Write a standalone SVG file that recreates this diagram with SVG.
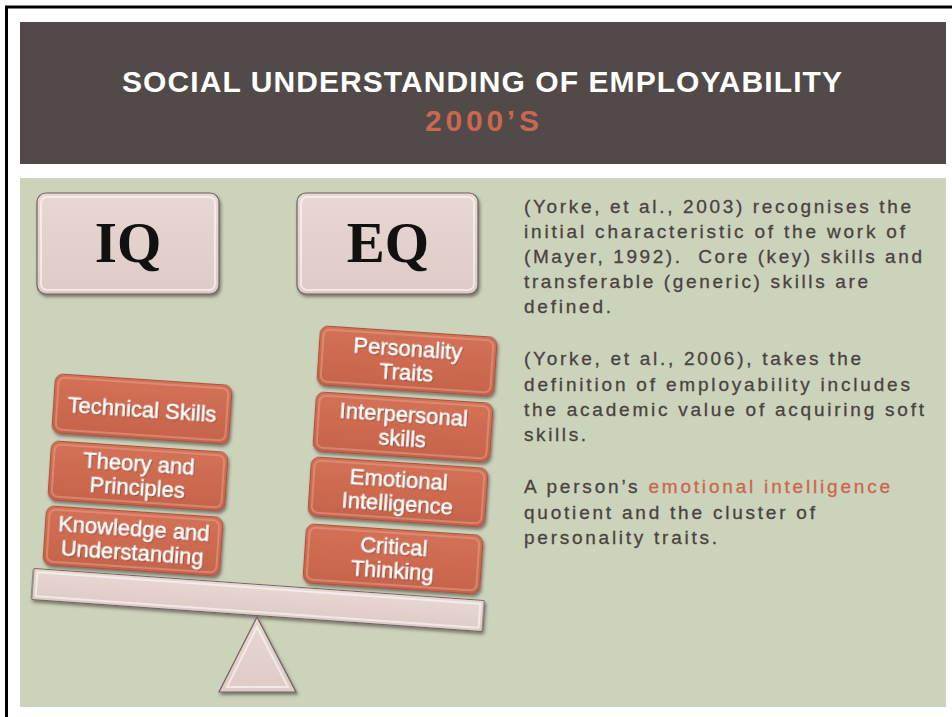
<svg xmlns="http://www.w3.org/2000/svg" width="952" height="717" viewBox="0 0 952 717">
  <defs>
    <linearGradient id="gOrange" x1="0" y1="0" x2="0" y2="1">
      <stop offset="0" stop-color="#d27257"/>
      <stop offset="0.5" stop-color="#cd6a50"/>
      <stop offset="1" stop-color="#c4644b"/>
    </linearGradient>
    <linearGradient id="gPink" x1="0" y1="0" x2="0" y2="1">
      <stop offset="0" stop-color="#e8d7d2"/>
      <stop offset="1" stop-color="#decbc5"/>
    </linearGradient>
    <filter id="shadow" x="-10%" y="-20%" width="125%" height="145%">
      <feDropShadow dx="1.5" dy="2.5" stdDeviation="1.8" flood-color="#3a3330" flood-opacity="0.55"/>
    </filter>
    <filter id="tshadow" x="-5%" y="-20%" width="110%" height="150%">
      <feDropShadow dx="0.8" dy="1" stdDeviation="0.6" flood-color="#6b2f20" flood-opacity="0.6"/>
    </filter>
  </defs>
  <style>
    .title{font-family:"Liberation Sans",Arial,sans-serif;font-weight:bold;font-size:30px;fill:#ffffff}
    .sub{font-family:"Liberation Sans",Arial,sans-serif;font-weight:bold;font-size:30px;fill:#c9684e}
    .eqtxt{font-family:"Liberation Serif","Times New Roman",serif;font-weight:bold;font-size:57px;fill:#111111}
    .pinkbox{fill:url(#gPink);stroke:#6f6360;stroke-width:1.2;filter:url(#shadow)}
    .pinkhl{fill:none;stroke:#ffffff;stroke-opacity:0.55;stroke-width:2}
    .orbox{fill:url(#gOrange);stroke:#a8533d;stroke-width:1;filter:url(#shadow)}
    .orhl{fill:none;stroke:#e89a84;stroke-opacity:0.6;stroke-width:2}
    .ortxt{font-family:"Liberation Sans",Arial,sans-serif;font-size:22px;fill:#ffffff;stroke:#ffffff;stroke-width:0.35;text-anchor:middle;filter:url(#tshadow)}
    .body{font-family:"Liberation Sans",Arial,sans-serif;font-size:19px;fill:#4a4240;stroke:#4a4240;stroke-width:0.3}
    .hl{fill:#c9684e;stroke:#c9684e}
  </style>

  <rect x="0" y="0" width="952" height="717" fill="#ffffff"/>
  <path d="M6.5,717 V7 H952" fill="none" stroke="#000000" stroke-width="3"/>

  <g id="header">
    <rect x="20" y="22" width="926" height="142" fill="#524a48"/>
    <text class="title" x="122" y="92" textLength="720" lengthAdjust="spacing">SOCIAL UNDERSTANDING OF EMPLOYABILITY</text>
    <text class="sub" x="425" y="131" textLength="114" lengthAdjust="spacing">2000’S</text>
  </g>

  <g id="panel">
    <rect x="20" y="178" width="926" height="529" fill="#ccd3bb"/>
  </g>

  <g id="iq">
    <rect class="pinkbox" x="37" y="193" width="182" height="101" rx="9"/>
    <rect class="pinkhl" x="41" y="197" width="174" height="93" rx="6"/>
    <text class="eqtxt" x="128" y="262" text-anchor="middle">IQ</text>
  </g>

  <g id="eq">
    <rect class="pinkbox" x="297" y="193" width="181" height="101" rx="9"/>
    <rect class="pinkhl" x="301" y="197" width="173" height="93" rx="6"/>
    <text class="eqtxt" x="388" y="262" text-anchor="middle">EQ</text>
  </g>

  <g id="technical-skills" transform="translate(142,409) rotate(3.8)">
    <rect class="orbox" x="-88.5" y="-29.5" width="177" height="59" rx="8"/>
    <rect class="orhl" x="-85" y="-26" width="170" height="52" rx="6"/>
    <text class="ortxt" x="0" y="8">Technical Skills</text>
  </g>

  <g id="theory-principles" transform="translate(138,476) rotate(3.8)">
    <rect class="orbox" x="-88.5" y="-29.5" width="177" height="59" rx="8"/>
    <rect class="orhl" x="-85" y="-26" width="170" height="52" rx="6"/>
    <text class="ortxt" x="0" y="-5">Theory and</text>
    <text class="ortxt" x="0" y="19">Principles</text>
  </g>

  <g id="knowledge-understanding" transform="translate(133,541) rotate(3.8)">
    <rect class="orbox" x="-88.5" y="-29.5" width="177" height="59" rx="8"/>
    <rect class="orhl" x="-85" y="-26" width="170" height="52" rx="6"/>
    <text class="ortxt" x="0" y="-5">Knowledge and</text>
    <text class="ortxt" x="0" y="19">Understanding</text>
  </g>

  <g id="personality-traits" transform="translate(407,361) rotate(3.8)">
    <rect class="orbox" x="-88.5" y="-29.5" width="177" height="59" rx="8"/>
    <rect class="orhl" x="-85" y="-26" width="170" height="52" rx="6"/>
    <text class="ortxt" x="0" y="-5">Personality</text>
    <text class="ortxt" x="0" y="19">Traits</text>
  </g>

  <g id="interpersonal-skills" transform="translate(403,427) rotate(3.8)">
    <rect class="orbox" x="-88.5" y="-29.5" width="177" height="59" rx="8"/>
    <rect class="orhl" x="-85" y="-26" width="170" height="52" rx="6"/>
    <text class="ortxt" x="0" y="-5">Interpersonal</text>
    <text class="ortxt" x="0" y="19">skills</text>
  </g>

  <g id="emotional-intelligence" transform="translate(398,492) rotate(3.8)">
    <rect class="orbox" x="-88.5" y="-29.5" width="177" height="59" rx="8"/>
    <rect class="orhl" x="-85" y="-26" width="170" height="52" rx="6"/>
    <text class="ortxt" x="0" y="-5">Emotional</text>
    <text class="ortxt" x="0" y="19">Intelligence</text>
  </g>

  <g id="critical-thinking" transform="translate(393,559) rotate(3.8)">
    <rect class="orbox" x="-88.5" y="-29.5" width="177" height="59" rx="8"/>
    <rect class="orhl" x="-85" y="-26" width="170" height="52" rx="6"/>
    <text class="ortxt" x="0" y="-5">Critical</text>
    <text class="ortxt" x="0" y="19">Thinking</text>
  </g>

  <g id="beam" transform="translate(258,600) rotate(4.07)">
    <rect class="pinkbox" x="-226" y="-15.5" width="452" height="31" rx="1.5"/>
    <rect class="pinkhl" x="-222" y="-12" width="444" height="24" rx="1"/>
  </g>

  <g id="fulcrum">
    <polygon class="pinkbox" points="257,617 219,692 296,692"/>
    <polygon class="pinkhl" points="257,627 227,687 288,687"/>
  </g>

  <g id="description">
    <text class="body" x="524" y="213" textLength="387" lengthAdjust="spacing">(Yorke, et al., 2003) recognises the</text>
    <text class="body" x="524" y="238" textLength="381" lengthAdjust="spacing">initial characteristic of the work of</text>
    <text class="body" x="524" y="263" textLength="398" lengthAdjust="spacing" xml:space="preserve">(Mayer, 1992).  Core (key) skills and</text>
    <text class="body" x="524" y="288" textLength="344" lengthAdjust="spacing">transferable (generic) skills are</text>
    <text class="body" x="524" y="313" textLength="87" lengthAdjust="spacing">defined.</text>
    <text class="body" x="524" y="365" textLength="337" lengthAdjust="spacing">(Yorke, et al., 2006), takes the</text>
    <text class="body" x="524" y="391" textLength="386" lengthAdjust="spacing">definition of employability includes</text>
    <text class="body" x="524" y="416" textLength="400" lengthAdjust="spacing">the academic value of acquiring soft</text>
    <text class="body" x="524" y="441" textLength="62" lengthAdjust="spacing">skills.</text>
    <text class="body" x="524" y="493" textLength="366" lengthAdjust="spacing">A person’s <tspan class="hl">emotional intelligence</tspan></text>
    <text class="body" x="524" y="519" textLength="291" lengthAdjust="spacing">quotient and the cluster of</text>
    <text class="body" x="524" y="544" textLength="193" lengthAdjust="spacing">personality traits.</text>
  </g>
</svg>
